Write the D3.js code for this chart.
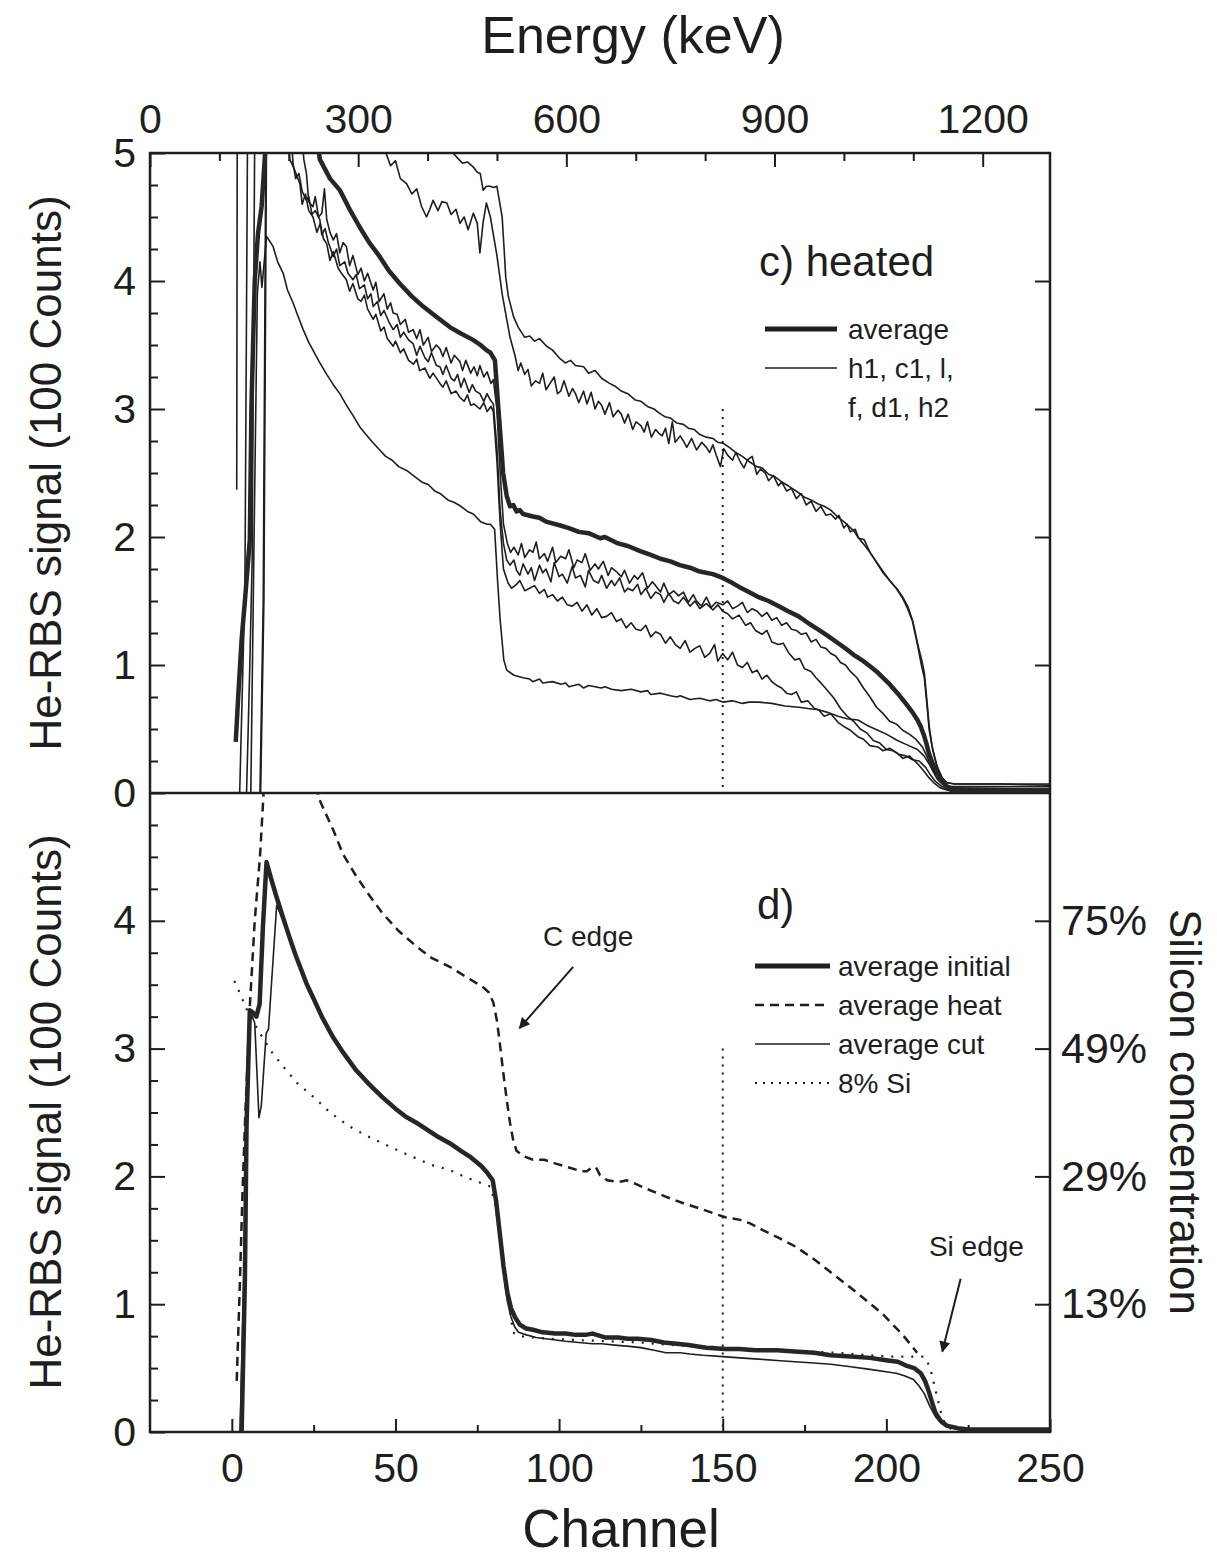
<!DOCTYPE html>
<html><head><meta charset="utf-8">
<script src="https://cdn.jsdelivr.net/npm/d3@7"></script>
<style>
html,body{margin:0;padding:0;background:#fff;}
text{font-family:"Liberation Sans",Arial,Helvetica,sans-serif;fill:#1e1e1e;}
</style></head>
<body>
<script>
// ---------------- tick definitions ----------------
const channelTicksMajor = [0, 50, 100, 150, 200, 250];
const channelTicksMinor = [25, 75, 125, 175, 225];
const energyTicksMajor = [0, 300, 600, 900, 1200];
const energyTicksMinor = [100, 200, 400, 500, 700, 800, 1000, 1100];
const countTicksMajor = [0, 1, 2, 3, 4, 5];
const countTicksMinor = [0.25,0.5,0.75,1.25,1.5,1.75,2.25,2.5,2.75,3.25,3.5,3.75,4.25,4.5,4.75];
const siliconTickValues = [1, 2, 3, 4];
const siliconTickLabels = ["13%", "29%", "49%", "75%"];
const markerChannel = 150;
const markerTopValue = 3.0;

// ---------------- panel c) heated : [channel, counts/100] ----------------
const heatedAverage = [[1.2,0.40],[1.9,0.73],[3,1.2],[4,1.5],[5.5,1.98],[6,3.02],[7,4.0],[8,4.37],[9.1,4.58],[10.1,4.97],[11,5.4],[25,5.3],[26.9,4.95],[30,4.8],[33,4.71],[36,4.56],[39.1,4.42],[42,4.3],[45.2,4.19],[48,4.08],[51.3,3.98],[55,3.88],[58.5,3.80],[62,3.73],[66.6,3.64],[70,3.59],[73.7,3.54],[76,3.50],[77.8,3.46],[79,3.44],[80.4,3.38],[81.4,3.02],[82.2,2.75],[82.9,2.50],[84,2.32],[85,2.24],[86,2.25],[87,2.20],[88,2.21],[89,2.18],[92,2.16],[94,2.15],[96,2.12],[100.4,2.09],[103,2.07],[106,2.04],[109,2.03],[112.6,1.99],[114,2.0],[118,1.95],[121,1.93],[124.8,1.89],[128,1.86],[131,1.83],[134,1.81],[136.9,1.78],[140,1.76],[143,1.73],[147,1.71],[150,1.68],[153,1.64],[155,1.61],[158,1.57],[161,1.53],[164,1.5],[167,1.46],[170,1.42],[173.2,1.38],[176,1.33],[179,1.28],[182,1.23],[185.3,1.17],[188,1.12],[190,1.08],[193,1.03],[195,0.99],[197,0.95],[199,0.90],[201,0.85],[203.4,0.78],[205,0.73],[206.5,0.68],[208,0.63],[209.5,0.57],[210.5,0.52],[211.5,0.45],[212.3,0.38],[213,0.31],[214,0.24],[215,0.18],[216,0.13],[216.7,0.10],[218.5,0.05],[220,0.02],[230,0.02],[250,0.02]];

const heatedSampleA = [[5.8,0],[6.8,2.0],[7.8,3.9],[8.6,4.15],[9.2,3.95],[10.6,4.35],[12.6,4.27],[14,4.15],[15.7,4.06],[17,3.93],[18.7,3.83],[20,3.74],[21.8,3.62],[23.5,3.52],[25,3.45],[26.9,3.36],[29,3.27],[31,3.19],[33,3.12],[35,3.03],[37,2.95],[39.1,2.86],[41,2.80],[43,2.74],[45.2,2.68],[47,2.63],[49,2.60],[51,2.55],[53.4,2.52],[56,2.47],[58,2.43],[60,2.41],[62,2.36],[63.6,2.34],[66,2.29],[68,2.27],[70,2.24],[72,2.20],[73.8,2.18],[76,2.12],[78,2.10],[79,2.10],[80.3,2.06],[81.2,1.66],[82,1.35],[83.1,1.04],[84,0.96],[86.2,0.92],[89,0.90],[91,0.89],[92,0.87],[94,0.89],[95,0.86],[98,0.87],[100.6,0.85],[102,0.86],[103,0.83],[106,0.85],[107.5,0.82],[109,0.84],[112.9,0.82],[114,0.83],[116,0.81],[119,0.80],[122,0.81],[125,0.79],[127,0.80],[128,0.77],[131,0.78],[134,0.76],[136,0.75],[137,0.76],[140,0.73],[143,0.74],[146,0.72],[148,0.73],[150,0.71],[153,0.72],[156,0.70],[158,0.71],[161,0.71],[165,0.70],[169,0.68],[173.3,0.67],[176,0.66],[179.3,0.65],[182,0.63],[185.2,0.60],[188,0.58],[191.3,0.57],[194,0.53],[197.4,0.49],[200,0.46],[203.4,0.41],[206,0.38],[209.5,0.34],[211.5,0.29],[213,0.23],[215,0.15],[216.7,0.09],[218.5,0.06],[220,0.05],[235,0.05],[250,0.05]];

const heatedSampleB = [[8.6,0],[9.6,1.5],[10.6,6],[21,5.3],[22,4.95],[22.8,4.84],[23.5,4.62],[24.8,4.58],[25.5,4.66],[26.5,4.5],[27.5,4.53],[28.3,4.72],[29,4.48],[30,4.38],[31,4.32],[32,4.37],[33,4.22],[34,4.3],[35,4.27],[36,4.12],[37,4.2],[38.5,4.05],[39.5,4.1],[40.5,4.0],[41.5,4.06],[43.2,3.93],[44,3.99],[45,3.84],[46.5,3.9],[47.5,3.78],[48.5,3.83],[49.3,3.75],[50.5,3.74],[51.5,3.66],[53,3.7],[54,3.6],[55.4,3.62],[56.5,3.55],[57.5,3.62],[58.5,3.5],[60,3.56],[61,3.45],[62.5,3.5],[63.6,3.47],[64.5,3.41],[65.5,3.48],[67,3.36],[68,3.42],[69.7,3.37],[70.5,3.3],[71.5,3.38],[73,3.28],[74,3.33],[75,3.26],[75.8,3.34],[77,3.25],[78,3.29],[79.2,3.2],[79.9,3.23],[81,3.0],[82,2.5],[83,2.1],[84.2,1.95],[85.2,1.88],[86.2,1.92],[87.5,1.86],[88.5,1.95],[89.5,1.84],[91,1.9],[92,1.88],[93,1.96],[94,1.83],[95.5,1.87],[96.5,1.81],[98,1.92],[99,1.8],[100.5,1.85],[102,1.83],[103,1.9],[104.5,1.76],[105.5,1.82],[107,1.8],[108,1.87],[109.5,1.74],[111,1.79],[112,1.75],[113.5,1.81],[115,1.7],[116,1.76],[117.5,1.73],[119,1.69],[120,1.74],[121.5,1.64],[123,1.7],[124,1.67],[125.5,1.72],[127,1.6],[128.5,1.65],[129.5,1.62],[131,1.57],[132,1.64],[133.5,1.55],[135,1.58],[136.5,1.54],[138,1.57],[139.5,1.49],[141,1.55],[142,1.5],[143.5,1.46],[145,1.53],[146.5,1.45],[148,1.49],[150,1.47],[151.5,1.5],[153,1.44],[154.5,1.46],[156,1.49],[157.5,1.41],[159,1.44],[160.5,1.42],[162,1.38],[163.5,1.41],[165,1.35],[166.5,1.37],[168,1.31],[169.5,1.33],[171,1.28],[172.5,1.27],[174,1.24],[175.5,1.25],[177,1.18],[178.5,1.2],[180,1.14],[181.5,1.13],[183,1.09],[184.5,1.07],[186,1.02],[187.5,1.0],[189,0.95],[191,0.9],[193,0.82],[195,0.75],[197,0.67],[199,0.62],[201,0.56],[203,0.54],[205,0.49],[207,0.46],[209,0.42],[211,0.36],[212.5,0.28],[214,0.18],[215.5,0.11],[217,0.07],[219,0.04],[250,0.03]];

const heatedSampleC = [[4.5,0],[5.5,1.0],[6.2,1.8],[7.2,6],[18,5.2],[18.7,4.92],[19.5,4.8],[20.5,4.84],[21.5,4.7],[22.8,4.63],[23.5,4.66],[24.5,4.52],[25.5,4.55],[26.9,4.48],[27.5,4.36],[28.5,4.41],[29.5,4.3],[31,4.19],[32,4.25],[33,4.12],[34.5,4.15],[35.5,4.06],[37,4.01],[38,4.05],[39,3.94],[40.5,3.97],[41.5,3.86],[42.5,3.9],[43.2,3.8],[44.5,3.84],[45.5,3.73],[46.5,3.77],[48,3.68],[49.3,3.62],[50.5,3.66],[51.5,3.56],[52.5,3.6],[54,3.54],[55.4,3.51],[56.5,3.42],[57.5,3.49],[59,3.4],[60,3.37],[61,3.44],[62.5,3.34],[63.6,3.33],[64.5,3.27],[65.5,3.34],[67,3.24],[68,3.22],[69,3.27],[70,3.17],[71,3.24],[72.5,3.13],[73.5,3.19],[74.5,3.14],[75.8,3.12],[77,3.06],[78,3.12],[79,3.07],[79.9,3.04],[81,2.7],[82,2.2],[83,1.95],[84,1.82],[85,1.78],[86.2,1.82],[87,1.74],[88,1.7],[89,1.79],[90.5,1.71],[91.5,1.76],[92.5,1.66],[94,1.78],[95,1.72],[96,1.75],[97.5,1.65],[98.5,1.8],[100,1.69],[101,1.71],[102.5,1.64],[104,1.77],[105,1.68],[106.5,1.7],[108,1.61],[109,1.74],[110.5,1.66],[112,1.64],[113,1.7],[114.5,1.6],[116,1.66],[117,1.62],[118.5,1.68],[120,1.57],[121,1.6],[122.5,1.58],[124,1.63],[125,1.55],[126.5,1.6],[128,1.52],[129.5,1.57],[131,1.55],[132,1.49],[133.5,1.56],[135,1.5],[136.5,1.48],[138,1.53],[140,1.46],[141.5,1.5],[143,1.44],[145,1.48],[147,1.43],[148.5,1.47],[150,1.42],[151.5,1.4],[153,1.36],[155,1.39],[157,1.31],[158.5,1.33],[160,1.27],[162,1.24],[163.5,1.27],[165,1.18],[167,1.16],[168.5,1.17],[170,1.1],[172,1.04],[173.5,1.05],[175,0.97],[177,0.95],[178.5,0.9],[180,0.86],[182,0.8],[184,0.74],[186,0.66],[188,0.6],[190,0.56],[192,0.5],[194,0.47],[196,0.41],[198,0.39],[200,0.34],[202,0.33],[204,0.3],[206,0.29],[208,0.26],[210,0.25],[212,0.2],[213.5,0.14],[215,0.09],[217,0.05],[219,0.03],[250,0.02]];

const heatedSampleD = [[8.8,0],[9.8,1.5],[10.8,6],[17,5.2],[17.7,4.95],[19,4.88],[20.8,4.76],[21.5,4.6],[22.5,4.68],[23.5,4.55],[24.8,4.5],[26,4.38],[27,4.45],[28,4.33],[29,4.29],[30,4.16],[31,4.23],[32.5,4.1],[33.5,4.06],[35,4.01],[36,3.92],[37,3.98],[38.5,3.86],[39.5,3.84],[40.5,3.89],[41.5,3.78],[43.2,3.7],[44,3.74],[45.5,3.61],[46.5,3.64],[47.5,3.55],[49.3,3.49],[50,3.53],[51.5,3.44],[52.5,3.47],[54,3.38],[55.5,3.35],[56.5,3.39],[57.4,3.3],[59,3.32],[60.5,3.24],[61.5,3.28],[63.6,3.2],[64.5,3.17],[65.5,3.22],[67,3.12],[68.5,3.14],[69.7,3.09],[71,3.06],[72,3.11],[73,3.03],[74,3.04],[75.8,3.0],[77,3.05],[78,2.98],[79.2,3.02],[79.9,2.98],[81,2.6],[82,2.1],[83,1.75],[84.4,1.64],[85.5,1.6],[87,1.63],[88,1.66],[89.5,1.58],[91,1.6],[92.5,1.62],[94,1.56],[95.5,1.59],[96.5,1.53],[98,1.55],[99.5,1.5],[101,1.53],[102.5,1.47],[104,1.46],[105.5,1.49],[107,1.42],[108.5,1.47],[110,1.39],[111.5,1.44],[113,1.37],[114.5,1.38],[116,1.41],[117.5,1.34],[119,1.36],[120.5,1.29],[122,1.33],[123.5,1.28],[125,1.27],[126.5,1.31],[128,1.22],[129.5,1.26],[131,1.24],[132.5,1.17],[134,1.22],[135.5,1.16],[137,1.13],[138.5,1.19],[140,1.1],[141.5,1.13],[143,1.15],[144.5,1.06],[146,1.09],[147.5,1.16],[148.5,1.03],[150,1.09],[151.5,1.04],[153,1.1],[154.5,1.0],[156,0.98],[157.5,1.02],[159,0.94],[160.5,0.96],[162,0.89],[163.5,0.92],[165,0.87],[166.5,0.84],[168,0.82],[169.5,0.78],[171,0.77],[172.5,0.79],[174,0.71],[176,0.72],[178,0.66],[179.3,0.65],[181,0.6],[183,0.62],[185.3,0.55],[187,0.52],[189,0.49],[191.3,0.44],[193,0.42],[195,0.37],[197.4,0.36],[199,0.33],[201,0.35],[203.4,0.31],[205,0.27],[207,0.29],[209.5,0.23],[211.5,0.17],[213,0.12],[214.5,0.08],[216.5,0.04],[219,0.02],[250,0.02]];

const heatedSampleE = [[2.4,0],[3.4,1.0],[4.0,1.6],[5.0,6],[46,5.2],[47.1,5.0],[48.5,4.9],[50,4.94],[51.5,4.8],[53.4,4.76],[55,4.68],[56.5,4.72],[58,4.58],[59.5,4.5],[60.5,4.56],[61.5,4.63],[63,4.55],[64.2,4.62],[65.7,4.61],[67,4.52],[68.5,4.56],[69.7,4.45],[71,4.5],[72.2,4.4],[73.8,4.53],[75,4.45],[75.8,4.22],[76.8,4.46],[77.8,4.61],[79,4.5],[80,4.35],[81,4.2],[82.6,3.9],[84,3.7],[85,3.56],[86.5,3.42],[87.5,3.3],[88.3,3.36],[89.5,3.27],[90.5,3.31],[91.5,3.18],[92.8,3.22],[94,3.2],[95,3.28],[96,3.15],[97,3.19],[98.5,3.25],[99.5,3.12],[100.5,3.14],[101.5,3.22],[103,3.1],[104.1,3.16],[105,3.12],[106,3.05],[107.5,3.14],[108.5,3.04],[109.8,3.13],[111,3.0],[112,3.06],[113,3.03],[114,2.96],[115.4,3.05],[116.5,2.94],[118,2.99],[119,2.96],[120,2.89],[121.1,2.96],[122.5,2.84],[123.5,2.9],[125,2.87],[126,2.82],[127,2.9],[128.2,2.78],[129.5,2.84],[130.5,2.81],[131.5,2.79],[132.5,2.85],[133.5,2.73],[134.6,2.9],[135.5,2.74],[137,2.79],[138,2.75],[139,2.7],[140.5,2.77],[142,2.68],[143.6,2.74],[145,2.7],[146,2.66],[147,2.72],[148,2.64],[149.3,2.55],[150.3,2.69],[151.5,2.64],[153,2.6],[154,2.66],[155.5,2.58],[156.5,2.54],[157.5,2.6],[159,2.63],[160.4,2.49],[161.5,2.53],[163,2.5],[164,2.44],[165.5,2.48],[167,2.4],[168,2.43],[169.5,2.36],[171,2.38],[172.5,2.3],[174,2.34],[175.5,2.25],[177,2.28],[178.5,2.2],[180,2.24],[181.5,2.17],[183,2.18],[184.5,2.14],[185.5,2.17],[187,2.07],[188,2.1],[189,2.04],[190.5,2.06],[191.5,1.99],[193.2,1.98],[195,1.88],[197,1.8],[199,1.72],[201,1.66],[203,1.6],[205,1.52],[206.5,1.44],[208,1.34],[209.5,1.16],[210.7,1.0],[211.6,0.9],[212.5,0.66],[213.1,0.49],[214.3,0.32],[215.5,0.2],[217,0.12],[218.5,0.08],[221,0.07],[235,0.07],[250,0.06]];

const heatedSampleF = [[1.5,2.37],[1.7,6],[66.5,5.2],[67.6,5.0],[69,4.96],[70.5,4.92],[72,4.93],[73.8,4.89],[75,4.85],[75.9,4.84],[76.8,4.71],[77.8,4.74],[78.9,4.74],[80,4.73],[81,4.74],[81.8,4.62],[82.6,4.5],[83.2,4.25],[83.7,4.03],[84.5,3.88],[85.3,3.8],[86.1,3.72],[87.5,3.64],[89.5,3.56],[91,3.57],[92.5,3.53],[94,3.55],[96.2,3.49],[98,3.46],[100,3.4],[101.9,3.36],[103.5,3.38],[105,3.34],[107.5,3.33],[109,3.28],[111,3.3],[113,3.24],[115.4,3.2],[117,3.18],[119,3.14],[121,3.12],[123.3,3.07],[125,3.06],[127,3.02],[129,3.0],[130.5,2.97],[132.3,2.94],[134,2.93],[136,2.89],[138,2.88],[139.5,2.85],[141.3,2.84],[143,2.8],[145,2.78],[147,2.77],[148.5,2.74],[150.3,2.73],[152,2.7],[154,2.66],[156,2.63],[158,2.59],[160.4,2.55],[162,2.54],[164,2.49],[166,2.47],[168,2.43],[170,2.4],[171.8,2.37],[173.5,2.34],[175,2.31],[177,2.29],[179,2.26],[181,2.24],[183,2.21],[185,2.16],[187,2.12],[188.7,2.08],[190,2.05],[191.3,2.0],[193.2,1.94],[195,1.88],[197.4,1.79],[199,1.73],[201,1.66],[203.4,1.59],[205,1.53],[206.5,1.46],[208,1.35],[209.8,1.14],[210.8,1.04],[211.6,0.94],[212.4,0.72],[213.1,0.52],[214,0.36],[215.5,0.21],[217,0.12],[218.5,0.08],[221,0.07],[240,0.07],[250,0.07]];

// ---------------- panel d) comparison ----------------
const averageInitial = [[3,0],[3.5,0.6],[4,1.2],[4.5,2.4],[5.5,3.3],[6.5,3.28],[7.5,3.25],[8.5,3.35],[9.5,3.95],[10.6,4.46],[12,4.33],[13.5,4.2],[15.6,4.03],[17.5,3.88],[19.5,3.73],[22.8,3.51],[25,3.39],[27.5,3.25],[30.9,3.09],[34,2.97],[38,2.83],[42,2.72],[46,2.62],[50,2.53],[53,2.47],[56.4,2.42],[60,2.36],[63,2.31],[66.6,2.26],[70,2.2],[73,2.15],[76.3,2.08],[78,2.03],[79.7,1.97],[80.8,1.8],[81.9,1.55],[83,1.3],[84.2,1.09],[85.3,0.97],[86.5,0.9],[88,0.84],[89.9,0.81],[92,0.8],[95,0.78],[98.9,0.77],[102,0.77],[105,0.76],[108,0.76],[110.2,0.77],[114,0.74],[118,0.74],[121,0.73],[124,0.73],[128.2,0.72],[132,0.7],[136,0.69],[139.5,0.68],[145,0.66],[150.8,0.65],[155,0.65],[160,0.64],[166.6,0.64],[172,0.63],[177.9,0.62],[183,0.6],[189.1,0.59],[195,0.58],[200.4,0.56],[203.5,0.55],[206,0.52],[208.5,0.5],[210.5,0.46],[211.8,0.40],[212.8,0.33],[214,0.23],[215,0.15],[216.5,0.09],[218.4,0.05],[221.8,0.03],[225,0.02],[250,0.02]];

const averageCut = [[2.5,0],[3.5,1.0],[4.5,2.4],[5.5,3.3],[7,3.2],[8.3,2.46],[9,2.55],[10.5,3.12],[11.2,3.15],[13.7,4.12],[15.6,4.01],[17.5,3.87],[20,3.7],[22.8,3.5],[25,3.38],[27.5,3.24],[30.9,3.08],[34,2.96],[38,2.82],[42,2.71],[46,2.61],[50,2.52],[53,2.46],[56.4,2.41],[60,2.35],[63,2.3],[66.6,2.25],[70,2.19],[73,2.14],[76.3,2.07],[78,2.02],[79.7,1.96],[80.8,1.78],[81.9,1.52],[83,1.25],[84.2,1.02],[85.3,0.9],[86.5,0.82],[87.6,0.78],[90,0.76],[93,0.74],[96,0.73],[98.9,0.72],[102,0.71],[106,0.7],[110.2,0.69],[113,0.69],[117,0.68],[121.5,0.67],[125,0.66],[129,0.64],[132.7,0.62],[137,0.62],[140,0.61],[144,0.6],[150,0.59],[155.3,0.58],[161,0.57],[166.6,0.56],[172,0.55],[177.9,0.54],[183,0.53],[189.1,0.51],[195,0.49],[200.4,0.47],[203,0.46],[205.5,0.44],[208.3,0.41],[210,0.36],[211.6,0.3],[213.3,0.2],[215,0.12],[216.7,0.07],[218.4,0.04],[222,0.02],[250,0.02]];

const averageHeat = [[1.5,0.4],[2.5,1.2],[3.3,1.9],[4,2.4],[5.5,3.33],[7,4.0],[8.6,4.5],[9.6,4.95],[10.5,5.4],[25,5.3],[26.4,4.97],[28.5,4.85],[31,4.71],[34,4.52],[38,4.35],[42,4.2],[46,4.06],[51,3.92],[56.4,3.80],[61,3.71],[66.6,3.64],[71,3.57],[76.8,3.48],[78.5,3.44],[79.9,3.36],[81,3.22],[81.9,3.04],[83,2.8],[84,2.6],[85,2.42],[86,2.28],[87,2.2],[89,2.16],[92,2.13],[95.5,2.13],[99,2.1],[103,2.07],[106.8,2.04],[108.5,2.04],[110,2.07],[111.3,2.07],[112.5,2.01],[114.7,1.97],[117,1.96],[119.2,1.96],[120.5,1.97],[122.6,1.95],[127,1.9],[132.7,1.84],[138,1.79],[144,1.74],[150.8,1.68],[155.3,1.66],[158.5,1.63],[162.2,1.58],[167,1.52],[172.3,1.45],[178,1.35],[183.5,1.24],[189,1.13],[194.8,1.01],[199,0.92],[202.7,0.82],[205,0.76],[207.2,0.69],[209.4,0.62]];

const silicon8pct = [[0.8,3.53],[3,3.4],[5,3.28],[8.6,3.12],[12,2.98],[15.7,2.86],[20,2.73],[25.9,2.6],[30,2.5],[36,2.39],[41,2.32],[46,2.26],[51,2.2],[56.4,2.14],[61,2.09],[66.6,2.05],[70,2.01],[73.8,1.97],[77,1.94],[79,1.92],[80.5,1.78],[82,1.5],[83.5,1.2],[84.8,1.0],[85.9,0.78],[87.6,0.75],[92,0.74],[96.6,0.73],[105,0.72],[115,0.71],[125,0.7],[135,0.68],[145,0.67],[155,0.65],[165,0.64],[175,0.63],[185,0.62],[195,0.6],[200.4,0.59],[206,0.59],[211.6,0.59],[213.3,0.51],[215,0.33],[216.7,0.15],[218,0.06],[220,0.02]];

// annotations (channel, counts)
const cEdgeLabel = [95.1, 3.80];
const cEdgeArrow = [[104.3, 3.64], [87.9, 3.16]];
const siEdgeLabel = [213.0, 1.38];
const siEdgeArrow = [[222.7, 1.20], [217.1, 0.63]];

// ---------------- layout ----------------
const W = 1217, H = 1558;
const L = 150, R = 1050, T = 153, M = 793, B = 1432;
const INK = "#1e1e1e";
const FONT = '"Liberation Sans",Arial,Helvetica,sans-serif';

const svg = d3.select("body").append("svg").attr("width", W).attr("height", H)
  .style("display","block").style("background","#fff");

const x = d3.scaleLinear().domain([-25, 250]).range([L, R]);
const xE = d3.scaleLinear().domain([0, 1297]).range([L, R]);
const yTop = d3.scaleLinear().domain([0, 5]).range([M, T]);
const yBot = d3.scaleLinear().domain([0, 5]).range([B, M]);

const defs = svg.append("defs");
defs.append("clipPath").attr("id","clipTop").append("rect").attr("x",L).attr("y",T).attr("width",R-L).attr("height",M-T);
defs.append("clipPath").attr("id","clipBot").append("rect").attr("x",L).attr("y",M).attr("width",R-L).attr("height",B-M);
defs.append("marker").attr("id","arrow").attr("viewBox","0 0 10 10").attr("refX",9).attr("refY",5)
  .attr("markerWidth",16).attr("markerHeight",11).attr("markerUnits","userSpaceOnUse").attr("orient","auto")
  .append("path").attr("d","M0,0 L10,5 L0,10 Z").attr("fill",INK);

function styleAxis(g, fs) {
  g.select(".domain").remove();
  g.selectAll(".tick line").attr("stroke", INK).attr("stroke-width", 2);
  g.selectAll(".tick text").attr("font-family", FONT).attr("font-size", fs).attr("fill", INK);
}

// ---- left axes (both panels)
[[yTop, countTicksMajor], [yBot, countTicksMajor.filter(d => d < 5)]].forEach(([ys, majors]) => {
  const gMin = svg.append("g").attr("transform", `translate(${L},0)`)
    .call(d3.axisLeft(ys).tickValues(countTicksMinor).tickSize(-8).tickSizeOuter(0).tickFormat(""));
  styleAxis(gMin, 40);
  const gMaj = svg.append("g").attr("transform", `translate(${L},0)`)
    .call(d3.axisLeft(ys).tickValues(majors).tickSize(-15).tickPadding(14).tickSizeOuter(0).tickFormat(d3.format("d")));
  styleAxis(gMaj, 41);
});
// ---- right axes
const gRT = svg.append("g").attr("transform", `translate(${R},0)`)
  .call(d3.axisRight(yTop).tickValues(siliconTickValues).tickSize(-15).tickSizeOuter(0).tickFormat(""));
styleAxis(gRT, 40);
const gRB = svg.append("g").attr("transform", `translate(${R},0)`)
  .call(d3.axisRight(yBot).tickValues(siliconTickValues).tickSize(-15).tickPadding(11).tickSizeOuter(0)
    .tickFormat(d => siliconTickLabels[siliconTickValues.indexOf(d)]));
styleAxis(gRB, 43);

// ---- top (energy) axis
const gEmin = svg.append("g").attr("transform", `translate(0,${T})`)
  .call(d3.axisTop(xE).tickValues(energyTicksMinor).tickSize(-8).tickSizeOuter(0).tickFormat(""));
styleAxis(gEmin, 40);
const gEmaj = svg.append("g").attr("transform", `translate(0,${T})`)
  .call(d3.axisTop(xE).tickValues(energyTicksMajor).tickSize(-14).tickPadding(20).tickSizeOuter(0).tickFormat(d3.format("d")));
styleAxis(gEmaj, 41);

// ---- bottom (channel) axis
const gCmin = svg.append("g").attr("transform", `translate(0,${B})`)
  .call(d3.axisBottom(x).tickValues(channelTicksMinor).tickSize(-7).tickSizeOuter(0).tickFormat(""));
styleAxis(gCmin, 40);
const gCmaj = svg.append("g").attr("transform", `translate(0,${B})`)
  .call(d3.axisBottom(x).tickValues(channelTicksMajor).tickSize(-13).tickPadding(21).tickSizeOuter(0).tickFormat(d3.format("d")));
styleAxis(gCmaj, 41);

// ---- frames
svg.append("rect").attr("x",L).attr("y",T).attr("width",R-L).attr("height",B-T)
  .attr("fill","none").attr("stroke",INK).attr("stroke-width",2.5);
svg.append("line").attr("x1",L).attr("x2",R).attr("y1",M).attr("y2",M).attr("stroke",INK).attr("stroke-width",2.5);

// ---- titles
svg.append("text").attr("x", 633).attr("y", 53).attr("text-anchor","middle")
  .attr("font-size", 52).text("Energy (keV)");
svg.append("text").attr("x", 621).attr("y", 1547).attr("text-anchor","middle")
  .attr("font-size", 53).text("Channel");
[473, 1112].forEach(cy => {
  svg.append("text").attr("transform", `translate(61,${cy}) rotate(-90)`).attr("text-anchor","middle")
    .attr("font-size", 44).text("He-RBS signal (100 Counts)");
});
svg.append("text").attr("transform", `translate(1170,1112) rotate(90)`).attr("text-anchor","middle")
  .attr("font-size", 44).text("Silicon concentration");

// ---- dotted marker lines at channel 150
[yTop, yBot].forEach(ys => {
  svg.append("line").attr("x1", x(markerChannel)).attr("x2", x(markerChannel))
    .attr("y1", ys(markerTopValue)).attr("y2", ys(0))
    .attr("stroke", INK).attr("stroke-width", 2).attr("stroke-dasharray", "2,6");
});

// ---- curves
const lineTop = d3.line().x(d => x(d[0])).y(d => yTop(d[1]));
const lineBot = d3.line().x(d => x(d[0])).y(d => yBot(d[1]));

const gTop = svg.append("g").attr("clip-path","url(#clipTop)");
[heatedSampleA, heatedSampleB, heatedSampleC, heatedSampleD, heatedSampleE, heatedSampleF].forEach(s => {
  gTop.append("path").datum(s).attr("d", lineTop).attr("fill","none").attr("stroke", INK)
    .attr("stroke-width", 1.6).attr("stroke-linejoin","round");
});
gTop.append("path").datum(heatedAverage).attr("d", lineTop).attr("fill","none").attr("stroke", "#262626")
  .attr("stroke-width", 4.5).attr("stroke-linejoin","round");

const gBot = svg.append("g").attr("clip-path","url(#clipBot)");
gBot.append("path").datum(silicon8pct).attr("d", lineBot).attr("fill","none").attr("stroke", INK)
  .attr("stroke-width", 2.2).attr("stroke-dasharray","2,8");
gBot.append("path").datum(averageHeat).attr("d", lineBot).attr("fill","none").attr("stroke", INK)
  .attr("stroke-width", 2.5).attr("stroke-dasharray","9,6");
gBot.append("path").datum(averageCut).attr("d", lineBot).attr("fill","none").attr("stroke", INK)
  .attr("stroke-width", 1.6).attr("stroke-linejoin","round");
gBot.append("path").datum(averageInitial).attr("d", lineBot).attr("fill","none").attr("stroke", "#262626")
  .attr("stroke-width", 4.5).attr("stroke-linejoin","round");

// ---- panel labels & legends
svg.append("text").attr("x", 759).attr("y", 276).attr("font-size", 42).text("c) heated");
const topLegend = [
  {w: 5, y: 329, label: ["average"]},
  {w: 1.6, y: 368, label: ["h1, c1, l,", "f, d1, h2"]}
];
topLegend.forEach(d => {
  svg.append("line").attr("x1", 765).attr("x2", 837).attr("y1", d.y).attr("y2", d.y)
    .attr("stroke", INK).attr("stroke-width", d.w);
  d.label.forEach((t, i) => svg.append("text").attr("x", 848).attr("y", d.y + 10 + i * 39)
    .attr("font-size", 28).text(t));
});

svg.append("text").attr("x", 757).attr("y", 919).attr("font-size", 42).text("d)");
const botLegend = [
  {w: 5, dash: null, y: 966, label: "average initial"},
  {w: 2.5, dash: "9,6", y: 1005, label: "average heat"},
  {w: 1.6, dash: null, y: 1044, label: "average cut"},
  {w: 2.2, dash: "2,6", y: 1083, label: "8% Si"}
];
botLegend.forEach(d => {
  svg.append("line").attr("x1", 755).attr("x2", 830).attr("y1", d.y).attr("y2", d.y)
    .attr("stroke", INK).attr("stroke-width", d.w).attr("stroke-dasharray", d.dash);
  svg.append("text").attr("x", 838).attr("y", d.y + 10).attr("font-size", 28).text(d.label);
});

// ---- annotations
svg.append("text").attr("x", x(cEdgeLabel[0])).attr("y", yBot(cEdgeLabel[1])).attr("font-size", 28).text("C edge");
svg.append("text").attr("x", x(siEdgeLabel[0])).attr("y", yBot(siEdgeLabel[1])).attr("font-size", 28).text("Si edge");
[cEdgeArrow, siEdgeArrow].forEach(a => {
  svg.append("line").attr("x1", x(a[0][0])).attr("y1", yBot(a[0][1]))
    .attr("x2", x(a[1][0])).attr("y2", yBot(a[1][1]))
    .attr("stroke", INK).attr("stroke-width", 2).attr("marker-end", "url(#arrow)");
});
</script>
</body></html>
